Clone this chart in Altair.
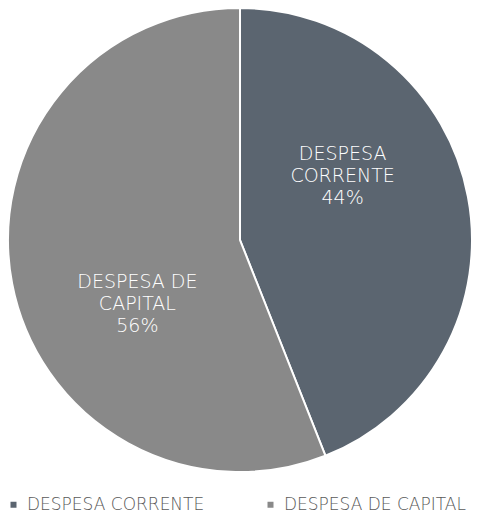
import altair as alt
import pandas as pd

categories = ["DESPESA CORRENTE", "DESPESA DE CAPITAL"]
label_lines = ["DESPESA\nCORRENTE", "DESPESA DE\nCAPITAL"]
values = [44, 56]
colors = ["#5b6570", "#898989"]

df = pd.DataFrame({
    "cat": categories,
    "lines": label_lines,
    "value": values,
    "order": list(range(len(categories))),
})

FONT = "DejaVu Sans"

base = alt.Chart(df).transform_joinaggregate(
    total="sum(value)"
).transform_calculate(
    label="datum.lines + '\\n' + format(datum.value / datum.total, '.0%')"
).encode(
    theta=alt.Theta("value:Q", stack=True),
    order=alt.Order("order:Q"),
)

pie = base.mark_arc(radius=232, stroke="white", strokeWidth=2).encode(
    color=alt.Color(
        "cat:N",
        scale=alt.Scale(domain=categories, range=colors),
        sort=categories,
        legend=alt.Legend(
            title=None,
            orient="none",
            legendX=-3,
            legendY=488,
            direction="horizontal",
            padding=0,
            symbolType="square",
            symbolSize=36,
            symbolStrokeWidth=0,
            labelFont=FONT,
            labelFontSize=17,
            labelFontWeight=300,
            labelColor="#595959",
            labelOffset=5,
            columnPadding=57,
            labelLimit=300,
        ),
    )
)

text = base.mark_text(
    radius=121,
    thetaOffset=-0.37,
    dy=-22,
    font=FONT,
    fontSize=19,
    fontWeight=300,
    color="white",
    lineBreak="\n",
    lineHeight=22,
    align="center",
    baseline="middle",
).encode(text="label:N")

chart = (pie + text).properties(
    width=464,
    height=464,
    padding={"left": 0, "top": 0, "right": 0, "bottom": 44},
    autosize=alt.AutoSizeParams(type="none"),
).configure_view(stroke=None)

chart.save("out.html", embed_options={"renderer": "svg", "actions": False})
